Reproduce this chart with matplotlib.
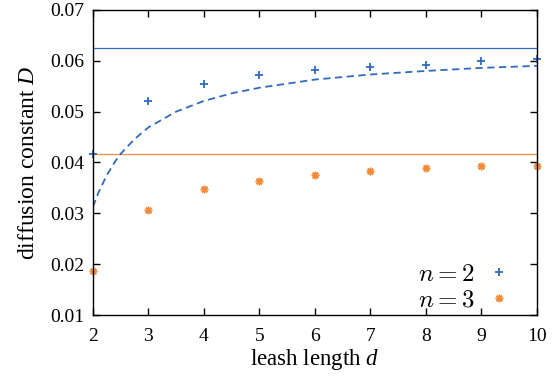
import matplotlib
matplotlib.use("Agg")
import matplotlib.pyplot as plt

# leash length d and measured diffusion constants
d = [2, 3, 4, 5, 6, 7, 8, 9, 10]
D_n2 = [0.0417, 0.0521, 0.0555, 0.0572, 0.0582, 0.0588, 0.0592, 0.0600, 0.0603]
D_n3 = [0.0187, 0.0307, 0.0348, 0.0364, 0.0376, 0.0383, 0.0389, 0.0393, 0.0393]

# dashed curve
curve_d = [2, 2.1, 2.25, 2.4, 2.5, 2.75, 3, 3.5, 4, 4.5, 5, 6, 7, 8, 9, 10]
curve_D = [0.0313, 0.0341, 0.0375, 0.0402, 0.0417, 0.0446, 0.0469, 0.0500,
           0.0521, 0.0536, 0.0547, 0.0563, 0.0573, 0.0580, 0.0586, 0.0590]

# limiting values (horizontal lines)
limit_n2 = 0.0625
limit_n3 = 0.04167

blue = '#2f6bbd'
orange = '#f28c38'

plt.rcParams['font.family'] = ['Liberation Serif', 'DejaVu Serif']
plt.rcParams['mathtext.fontset'] = 'cm'
plt.rcParams['mathtext.rm'] = 'Liberation Serif'
plt.rcParams['mathtext.it'] = 'Liberation Serif:italic'

fig = plt.figure(figsize=(5.53, 3.81), dpi=100)
ax = fig.add_axes([0.168, 0.173, 0.803, 0.801])

ax.axhline(limit_n2, color=blue, lw=0.9)
ax.axhline(limit_n3, color=orange, lw=0.9)
ax.plot(curve_d, curve_D, color=blue, ls=(0, (4, 2.5)), lw=1.3)
ax.plot(d, D_n2, ls='none', marker='+', ms=6, mew=1.3, color=blue,
        label='$n=2$', clip_on=False)
ax.plot(d, D_n3, ls='none', marker=(8, 2, 0), ms=5.5, mew=1.1, color=orange,
        label='$n=3$', clip_on=False)

ax.set_xlim(2, 10)
ax.set_ylim(0.01, 0.07)
ax.set_xticks(range(2, 11))
ax.set_yticks([0.01, 0.02, 0.03, 0.04, 0.05, 0.06, 0.07])
ax.set_yticklabels(['0.01', '0.02', '0.03', '0.04', '0.05', '0.06', '0.07'])
ax.tick_params(direction='in', top=True, right=True, labelsize=14, length=5,
               width=1, pad=6)
ax.tick_params(axis='x', pad=9)
for s in ax.spines.values():
    s.set_linewidth(1)

xl = ax.set_xlabel('leash length $d$', fontsize=16.5, labelpad=2)
yl = ax.set_ylabel('diffusion constant $D$', fontsize=17, labelpad=8)
yl.set_math_fontfamily('custom')
xl.set_math_fontfamily('custom')

leg = ax.legend(loc='lower right', frameon=False, markerfirst=False,
                fontsize=18, handletextpad=0.5, borderaxespad=0.0,
                borderpad=0.0, labelspacing=0.12, handlelength=1.0,
                bbox_to_anchor=(0.943, 0.012))

fig.savefig('out.png', dpi=100)
